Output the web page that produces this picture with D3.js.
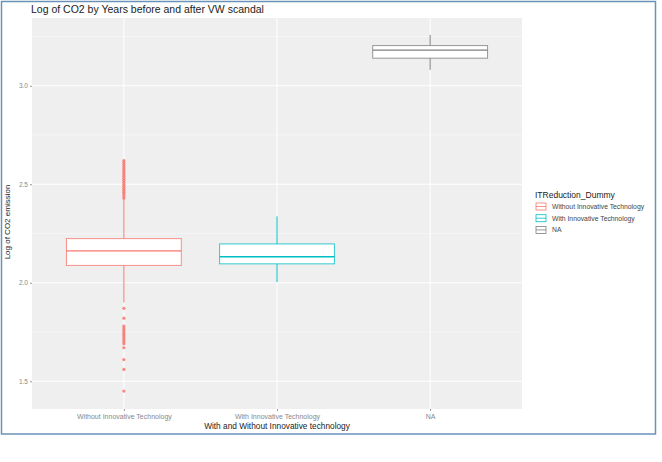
<!DOCTYPE html>
<html>
<head>
<meta charset="utf-8">
<script src="https://cdn.jsdelivr.net/npm/d3@7"></script>
<style>
  body { margin: 0; background: #fff; }
  text { font-family: "Liberation Sans", Arial, sans-serif; }
</style>
</head>
<body>
<script>
// categories on the x axis
var categories = ['Without Innovative Technology', 'With Innovative Technology', 'NA'];
var legendLabels = ['Without Innovative Technology', 'With Innovative Technology', 'NA'];
var colourValues = ['#F8766D', '#00BFC4', '#7F7F7F'];

// box statistics, one value per category
var whiskerLow = [1.90, 2.003, 3.081];
var q1 = [2.088, 2.096, 3.140];
var medians = [2.162, 2.132, 3.181];
var q3 = [2.224, 2.197, 3.204];
var whiskerHigh = [2.43, 2.337, 3.258];

// outliers of the first group
var outliersHigh = [2.43, 2.44, 2.45, 2.46, 2.47, 2.48, 2.49, 2.50, 2.51, 2.52, 2.53, 2.54, 2.55, 2.56, 2.57, 2.58, 2.59, 2.60, 2.61, 2.62];
var outliersLow = [1.87, 1.82, 1.78, 1.77, 1.76, 1.75, 1.74, 1.73, 1.72, 1.71, 1.70, 1.69, 1.67, 1.61, 1.56, 1.45];

var yTicks = [1.5, 2.0, 2.5, 3.0];
var yMinor = [1.75, 2.25, 2.75, 3.25];

var width = 662, height = 462;
var svg = d3.select(document.body).append('svg').attr('width', width).attr('height', height);
var panel = {left: 32, right: 522, top: 18, bottom: 409};

var x = d3.scalePoint().domain(categories).range([panel.left, panel.right]).padding(0.6);
var y = d3.scaleLinear().domain([1.359, 3.344]).range([panel.bottom, panel.top]);
var boxW = x.step() * 0.75;

// outer frame
svg.append('rect')
  .attr('x', 1.5).attr('y', 1.5)
  .attr('width', 654).attr('height', 432.5)
  .attr('fill', '#fff')
  .attr('stroke', '#6a92b8')
  .attr('stroke-width', 1.5);

// panel
svg.append('rect')
  .attr('x', panel.left).attr('y', panel.top)
  .attr('width', panel.right - panel.left).attr('height', panel.bottom - panel.top)
  .attr('fill', '#efefef');

svg.selectAll('.minor')
  .data(yMinor)
  .enter().append('line')
  .attr('x1', panel.left).attr('x2', panel.right)
  .attr('y1', function (d) { return y(d); })
  .attr('y2', function (d) { return y(d); })
  .attr('stroke', '#fafafa').attr('stroke-width', 0.5);

svg.selectAll('.major')
  .data(yTicks)
  .enter().append('line')
  .attr('x1', panel.left).attr('x2', panel.right)
  .attr('y1', function (d) { return y(d); })
  .attr('y2', function (d) { return y(d); })
  .attr('stroke', '#fff').attr('stroke-width', 1);

svg.selectAll('.vmajor')
  .data(categories)
  .enter().append('line')
  .attr('y1', panel.top).attr('y2', panel.bottom)
  .attr('x1', function (d) { return x(d); })
  .attr('x2', function (d) { return x(d); })
  .attr('stroke', '#fff').attr('stroke-width', 1);

// axes
var yAxis = svg.append('g')
  .attr('transform', 'translate(' + panel.left + ',0)')
  .call(d3.axisLeft(y).tickValues(yTicks).tickFormat(d3.format('.1f')).tickSize(2).tickPadding(2));
yAxis.select('.domain').remove();
yAxis.selectAll('line').attr('stroke', '#999');
yAxis.selectAll('text').attr('fill', '#888').style('font-size', '6.5px').style('font-family', '"Liberation Sans", Arial, sans-serif');

var xAxis = svg.append('g')
  .attr('transform', 'translate(0,' + panel.bottom + ')')
  .call(d3.axisBottom(x).tickSize(2).tickPadding(3));
xAxis.select('.domain').remove();
xAxis.selectAll('line').attr('stroke', '#999');
xAxis.selectAll('text').attr('fill', '#888').style('font-size', '7px').style('font-family', '"Liberation Sans", Arial, sans-serif');

// boxes
var boxes = svg.selectAll('.box')
  .data(categories)
  .enter().append('g')
  .attr('class', 'box');

boxes.append('line')
  .attr('x1', function (d) { return x(d); })
  .attr('x2', function (d) { return x(d); })
  .attr('y1', function (d, i) { return y(whiskerHigh[i]); })
  .attr('y2', function (d, i) { return y(q3[i]); })
  .attr('stroke', function (d, i) { return colourValues[i]; });

boxes.append('line')
  .attr('x1', function (d) { return x(d); })
  .attr('x2', function (d) { return x(d); })
  .attr('y1', function (d, i) { return y(q1[i]); })
  .attr('y2', function (d, i) { return y(whiskerLow[i]); })
  .attr('stroke', function (d, i) { return colourValues[i]; });

boxes.append('rect')
  .attr('x', function (d) { return x(d) - boxW / 2; })
  .attr('width', boxW)
  .attr('y', function (d, i) { return y(q3[i]); })
  .attr('height', function (d, i) { return y(q1[i]) - y(q3[i]); })
  .attr('fill', '#fff')
  .attr('stroke', function (d, i) { return colourValues[i]; })
  .attr('stroke-opacity', 0.8);

boxes.append('line')
  .attr('x1', function (d) { return x(d) - boxW / 2; })
  .attr('x2', function (d) { return x(d) + boxW / 2; })
  .attr('y1', function (d, i) { return y(medians[i]); })
  .attr('y2', function (d, i) { return y(medians[i]); })
  .attr('stroke', function (d, i) { return colourValues[i]; })
  .attr('stroke-width', 1.3);

svg.selectAll('.outlier')
  .data(outliersHigh.concat(outliersLow))
  .enter().append('circle')
  .attr('cx', x(categories[0]))
  .attr('cy', function (d) { return y(d); })
  .attr('r', 1.6)
  .attr('fill', colourValues[0])
  .attr('fill-opacity', 0.85);

// titles
svg.append('text')
  .attr('x', 31).attr('y', 13)
  .attr('fill', '#222')
  .style('font-size', '10.5px')
  .text('Log of CO2 by Years before and after VW scandal');

svg.append('text')
  .attr('x', (panel.left + panel.right) / 2).attr('y', 429)
  .attr('text-anchor', 'middle')
  .attr('fill', '#222')
  .style('font-size', '8.3px')
  .text('With and Without Innovative technology');

svg.append('text')
  .attr('transform', 'translate(10,' + 222 + ') rotate(-90)')
  .attr('text-anchor', 'middle')
  .attr('fill', '#222')
  .style('font-size', '8px')
  .text('Log of CO2 emission');

// legend
var legend = svg.append('g').attr('transform', 'translate(535,0)');
legend.append('text')
  .attr('x', 0).attr('y', 198)
  .attr('fill', '#222')
  .style('font-size', '8.5px')
  .text('ITReduction_Dummy');

var keys = legend.selectAll('.key')
  .data(legendLabels)
  .enter().append('g')
  .attr('transform', function (d, i) { return 'translate(1,' + (203 + i * 11.7) + ')'; });

keys.append('rect')
  .attr('width', 10).attr('height', 7)
  .attr('fill', '#fff')
  .attr('stroke', function (d, i) { return colourValues[i]; })
  .attr('stroke-width', 0.8);
keys.append('line')
  .attr('x1', 0).attr('x2', 10).attr('y1', 3.5).attr('y2', 3.5)
  .attr('stroke', function (d, i) { return colourValues[i]; })
  .attr('stroke-width', 0.8);
keys.append('text')
  .attr('x', 16).attr('y', 6)
  .attr('fill', '#444')
  .style('font-size', '6.8px')
  .text(function (d) { return d; });
</script>
</body>
</html>
